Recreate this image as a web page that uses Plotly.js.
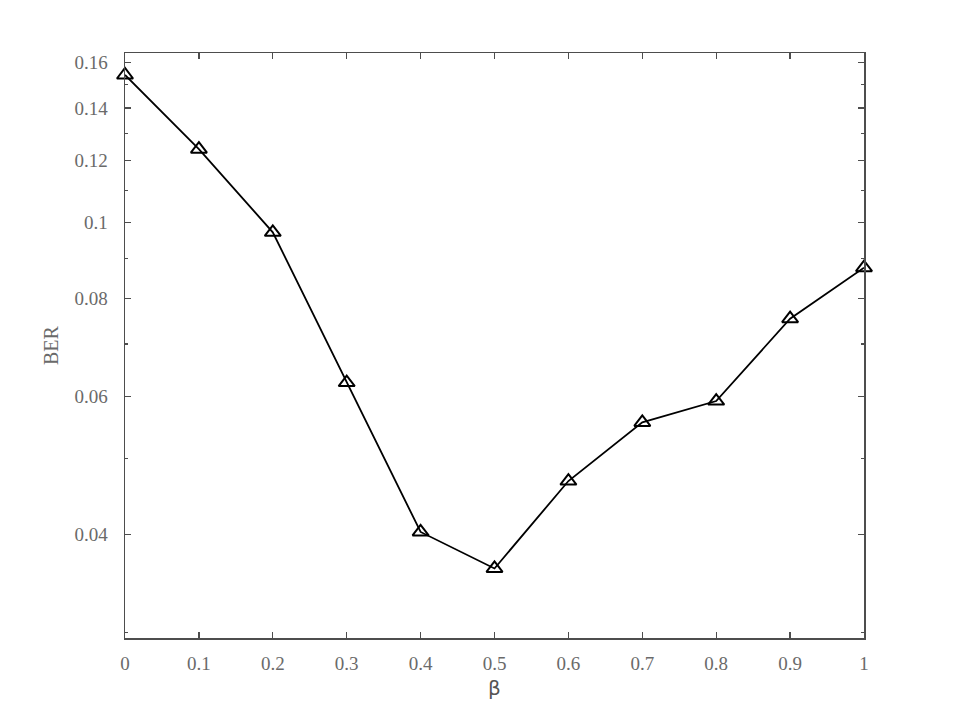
<!DOCTYPE html>
<html>
<head>
<meta charset="utf-8">
<script src="https://cdn.plot.ly/plotly-3.0.1.min.js"></script>
<style>html,body{margin:0;padding:0;background:#fff;}#chart{width:956px;height:717px;}</style>
</head>
<body>
<div id="chart"></div>
<script>
const beta = [0, 0.1, 0.2, 0.3, 0.4, 0.5, 0.6, 0.7, 0.8, 0.9, 1.0];
const ber = [0.1543, 0.1241, 0.0972, 0.0625, 0.0403, 0.0362, 0.0468, 0.0556, 0.0592, 0.0754, 0.0876];
const xTickVals = [0, 0.1, 0.2, 0.3, 0.4, 0.5, 0.6, 0.7, 0.8, 0.9, 1];
const xTickText = ['0', '0.1', '0.2', '0.3', '0.4', '0.5', '0.6', '0.7', '0.8', '0.9', '1'];
const yTickVals = [0.04, 0.06, 0.08, 0.1, 0.12, 0.14, 0.16];
const yTickText = ['0.04', '0.06', '0.08', '0.1', '0.12', '0.14', '0.16'];
const yMinorVals = [0.03, 0.05, 0.07, 0.09, 0.11, 0.13, 0.15];

const tickFont = {family: 'Liberation Serif, DejaVu Serif, serif', size: 19, color: '#6a6a6a'};
const axisCol = '#4d4d4d';

const trace = {
  x: beta, y: ber, type: 'scatter', mode: 'lines+markers',
  line: {color: '#000', width: 1.8},
  marker: {symbol: 'triangle-up-open', size: 14, color: '#000', line: {color: '#000', width: 2}},
  showlegend: false, cliponaxis: false
};

const layout = {
  width: 956, height: 717,
  margin: {l: 125, r: 92, t: 53, b: 79},
  paper_bgcolor: '#fff', plot_bgcolor: '#fff',
  xaxis: {
    range: [0, 1], tickvals: xTickVals, ticktext: xTickText,
    ticks: 'inside', ticklen: 6, tickwidth: 1.3, tickcolor: axisCol,
    showline: true, linecolor: axisCol, linewidth: 1.5, mirror: 'ticks',
    showgrid: false, zeroline: false, tickfont: tickFont, ticklabelstandoff: 8,
    title: {text: 'β', font: {family: 'DejaVu Sans, sans-serif', size: 20, color: '#555'}, standoff: 7}
  },
  yaxis: {
    type: 'log', range: [Math.log10(0.02951), Math.log10(0.1646)],
    tickvals: yTickVals, ticktext: yTickText,
    ticks: 'inside', ticklen: 6, tickwidth: 1.3, tickcolor: axisCol,
    minor: {tickvals: yMinorVals, ticks: 'inside', ticklen: 3, tickwidth: 1.3, tickcolor: axisCol, showgrid: false},
    showline: true, linecolor: axisCol, linewidth: 1.5, mirror: 'ticks',
    showgrid: false, zeroline: false, tickfont: tickFont, ticklabelstandoff: 12,
    title: {text: 'BER', font: {family: 'Liberation Serif, DejaVu Serif, serif', size: 20, color: '#6a6a6a'}, standoff: 10}
  }
};

Plotly.newPlot('chart', [trace], layout, {displayModeBar: false, staticPlot: true});
</script>
</body>
</html>
